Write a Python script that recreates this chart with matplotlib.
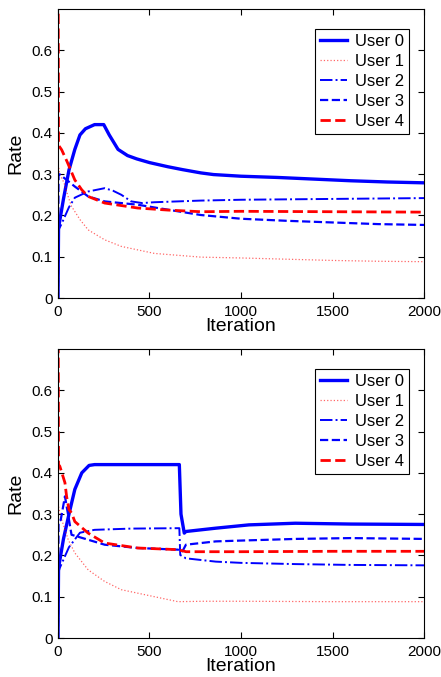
import matplotlib
matplotlib.use("Agg")
from matplotlib import pyplot as plt

plt.rcParams["font.family"] = ["Liberation Sans", "DejaVu Sans"]

users = ["User 0", "User 1", "User 2", "User 3", "User 4"]

# Top panel: iteration -> rate
top_u0_x = [0, 3, 30, 60, 92, 120, 150, 200, 250, 280, 328, 380, 430, 500, 600, 680, 781, 850, 1000, 1200, 1400, 1600, 1800, 2000]
top_u0_y = [0, 0.17, 0.24, 0.31, 0.36, 0.395, 0.41, 0.42, 0.42, 0.395, 0.36, 0.345, 0.337, 0.328, 0.318, 0.311, 0.303, 0.299, 0.295, 0.292, 0.288, 0.284, 0.281, 0.279]
top_u1_x = [0, 2, 10, 33, 56, 74, 120, 165, 255, 346, 527, 781, 1000, 1250, 1500, 1750, 2000]
top_u1_y = [1.0, 0.32, 0.30, 0.279, 0.245, 0.222, 0.19, 0.165, 0.141, 0.125, 0.108, 0.099, 0.097, 0.094, 0.091, 0.089, 0.088]
top_u2_x = [0, 3, 20, 60, 92, 165, 255, 300, 346, 400, 460, 527, 781, 1000, 1500, 2000]
top_u2_y = [0, 0.165, 0.18, 0.22, 0.243, 0.258, 0.266, 0.26, 0.25, 0.234, 0.23, 0.232, 0.236, 0.238, 0.24, 0.242]
top_u3_x = [0, 3, 11, 50, 92, 165, 255, 435, 600, 781, 1000, 1250, 1500, 1750, 2000]
top_u3_y = [0, 0.30, 0.299, 0.285, 0.27, 0.246, 0.234, 0.226, 0.214, 0.201, 0.192, 0.187, 0.183, 0.179, 0.177]
top_u4_x = [0, 3, 20, 50, 92, 130, 165, 255, 435, 600, 781, 1000, 1500, 2000]
top_u4_y = [1.0, 0.37, 0.359, 0.33, 0.286, 0.262, 0.246, 0.23, 0.218, 0.213, 0.209, 0.21, 0.209, 0.208]

# Bottom panel
bot_u0_x = [0, 3, 30, 60, 92, 130, 170, 200, 400, 600, 663, 672, 690, 699, 862, 1043, 1297, 1600, 2000]
bot_u0_y = [0, 0.17, 0.24, 0.30, 0.36, 0.40, 0.418, 0.42, 0.42, 0.42, 0.42, 0.30, 0.254, 0.258, 0.266, 0.274, 0.278, 0.276, 0.275]
bot_u1_x = [0, 2, 15, 56, 92, 165, 255, 346, 527, 655, 800, 1000, 1500, 2000]
bot_u1_y = [1.0, 0.32, 0.294, 0.238, 0.206, 0.165, 0.137, 0.117, 0.100, 0.088, 0.089, 0.089, 0.088, 0.088]
bot_u2_x = [0, 3, 10, 60, 120, 200, 400, 663, 668, 699, 862, 1000, 1300, 1600, 2000]
bot_u2_y = [0, 0.16, 0.17, 0.22, 0.255, 0.262, 0.265, 0.266, 0.201, 0.193, 0.185, 0.182, 0.179, 0.177, 0.176]
bot_u3_x = [0, 3, 15, 38, 74, 165, 255, 435, 655, 680, 699, 862, 1000, 1300, 1600, 2000]
bot_u3_y = [0, 0.28, 0.286, 0.343, 0.25, 0.238, 0.226, 0.218, 0.214, 0.21, 0.226, 0.234, 0.236, 0.24, 0.242, 0.240]
bot_u4_x = [0, 3, 10, 38, 47, 60, 74, 92, 165, 255, 435, 655, 700, 1000, 1500, 2000]
bot_u4_y = [1.0, 0.42, 0.416, 0.376, 0.343, 0.311, 0.303, 0.282, 0.254, 0.23, 0.218, 0.214, 0.209, 0.209, 0.21, 0.21]

styles = [
    dict(color="blue", linestyle="-", linewidth=2.4),
    dict(color="red", linestyle=":", linewidth=0.9, alpha=0.6),
    dict(color="blue", linestyle="-.", linewidth=1.4),
    dict(color="blue", linestyle="--", linewidth=1.6),
    dict(color="red", linestyle="--", linewidth=2.0),
]

panels = [
    [(top_u0_x, top_u0_y), (top_u1_x, top_u1_y), (top_u2_x, top_u2_y),
     (top_u3_x, top_u3_y), (top_u4_x, top_u4_y)],
    [(bot_u0_x, bot_u0_y), (bot_u1_x, bot_u1_y), (bot_u2_x, bot_u2_y),
     (bot_u3_x, bot_u3_y), (bot_u4_x, bot_u4_y)],
]

fig = plt.figure(figsize=(4.41, 6.77), dpi=100)
rects = [[0.1315, 0.5598, 0.83, 0.4269], [0.1315, 0.0576, 0.83, 0.4269]]

for rect, series in zip(rects, panels):
    ax = fig.add_axes(rect)
    for name, (x, y), st in zip(users, series, styles):
        ax.plot(x, y, label=name, **st)
    ax.set_xlim(0, 2000)
    ax.set_ylim(0, 0.7)
    ax.set_xticks([0, 500, 1000, 1500, 2000])
    ax.set_yticks([0, 0.1, 0.2, 0.3, 0.4, 0.5, 0.6])
    ax.set_yticklabels(["0", "0.1", "0.2", "0.3", "0.4", "0.5", "0.6"])
    ax.tick_params(direction="in", top=True, right=True, length=4,
                   labelsize=11, pad=4)
    ax.tick_params(axis="x", pad=5)
    ax.set_xlabel("Iteration", fontsize=14, labelpad=-1)
    ax.set_ylabel("Rate", fontsize=14, labelpad=5)
    leg = ax.legend(loc="upper right", bbox_to_anchor=(0.959, 0.931),
                    borderaxespad=0, fontsize=12, handlelength=1.6,
                    labelspacing=0.3, borderpad=0.3, handletextpad=0.5,
                    fancybox=False, framealpha=1)
    leg.get_frame().set_edgecolor("black")
    leg.get_frame().set_linewidth(0.8)

fig.savefig("out.png", dpi=100)
